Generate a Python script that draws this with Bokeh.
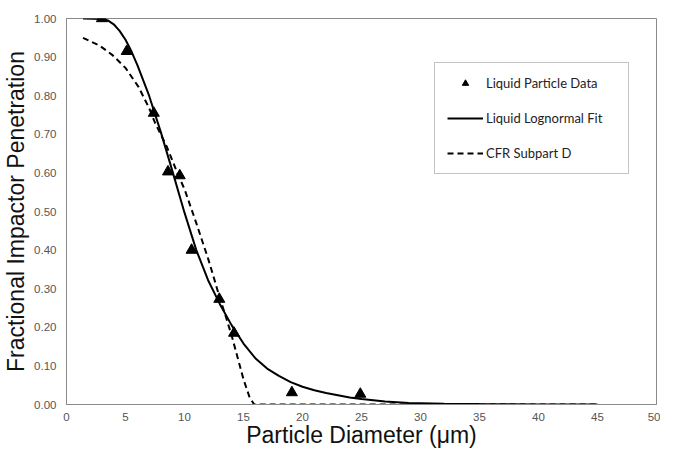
from bokeh.plotting import figure
from bokeh.models import Legend, LegendItem, NumeralTickFormatter, FixedTicker, Range1d
from bokeh.embed import file_html
from bokeh.resources import INLINE

# Measured data points (Liquid Particle Data)
data_x = [3.0, 5.1, 7.4, 8.6, 9.6, 10.6, 12.95, 14.2, 19.1, 24.9]
data_y = [1.00, 0.915, 0.755, 0.603, 0.593, 0.400, 0.273, 0.185, 0.031, 0.027]

# Liquid Lognormal Fit
fit_x = [1.4, 3.0, 3.5, 4.0, 4.5, 5.0, 5.5, 6.0, 7.0, 8.0, 9.0, 10.0, 11.0, 12.0, 13.0,
         14.0, 15.0, 16.0, 17.0, 18.0, 19.0, 20.0, 21.0, 22.0, 23.0, 24.0, 25.0, 27.0,
         29.0, 32.0, 35.0, 40.0, 45.0]
fit_y = [1.000, 0.999, 0.995, 0.985, 0.968, 0.945, 0.915, 0.880, 0.800, 0.705, 0.602,
         0.497, 0.400, 0.322, 0.260, 0.205, 0.158, 0.120, 0.093, 0.074, 0.058, 0.046,
         0.037, 0.030, 0.024, 0.018, 0.014, 0.008, 0.004, 0.002, 0.001, 0.000, 0.000]

# CFR Subpart D
cfr_x = [1.4, 2.8, 3.9, 5.0, 6.1, 7.0, 7.5, 8.5, 9.5, 10.0, 11.0, 12.0, 12.5, 13.0,
         13.5, 14.0, 14.5, 15.0, 15.5, 15.9, 45.0]
cfr_y = [0.950, 0.930, 0.905, 0.872, 0.823, 0.768, 0.730, 0.668, 0.592, 0.558, 0.470,
         0.378, 0.327, 0.275, 0.228, 0.178, 0.122, 0.065, 0.020, 0.000, 0.000]

x_ticks = [0, 5, 10, 15, 20, 25, 30, 35, 40, 45, 50]
y_ticks = [0.0, 0.1, 0.2, 0.3, 0.4, 0.5, 0.6, 0.7, 0.8, 0.9, 1.0]

series_names = ["Liquid Particle Data", "Liquid Lognormal Fit", "CFR Subpart D"]

p = figure(width=660, height=450, output_backend="svg", toolbar_location=None,
           x_range=Range1d(0, 50), y_range=Range1d(0, 1),
           min_border_left=58, min_border_right=4, min_border_top=18, min_border_bottom=30)

p.grid.visible = False
p.outline_line_color = "#8a8a8a"
p.outline_line_width = 1
p.background_fill_color = "white"
p.border_fill_color = "white"

fit_r = p.line(fit_x, fit_y, line_color="black", line_width=2)
cfr_r = p.line(cfr_x, cfr_y, line_color="black", line_width=2, line_dash="6 4")
pts_r = p.scatter(data_x, data_y, marker="triangle", size=11, fill_color="black",
                  line_color="black")

for ax in (p.xaxis[0], p.yaxis[0]):
    ax.axis_line_color = "#8a8a8a"
    ax.major_tick_line_color = None
    ax.minor_tick_line_color = None
    ax.major_tick_out = 0
    ax.major_tick_in = 0
    ax.major_label_text_font = "Liberation Sans"
    ax.major_label_text_font_size = "11.5px"
    ax.major_label_text_color = "#555555"
    ax.axis_label_text_font = "Liberation Sans"
    ax.axis_label_text_font_style = "normal"
    ax.axis_label_text_color = "#111111"

p.xaxis.ticker = FixedTicker(ticks=x_ticks)
p.yaxis.ticker = FixedTicker(ticks=y_ticks)
p.yaxis.formatter = NumeralTickFormatter(format="0.00")
p.xaxis.axis_label = "Particle Diameter (\u03bcm)"
p.yaxis.axis_label = "Fractional Impactor Penetration"
p.xaxis.axis_label_text_font_size = "23px"
p.yaxis.axis_label_text_font_size = "23px"
p.xaxis.major_label_standoff = 8
p.xaxis.axis_label_standoff = -2
p.yaxis.major_label_standoff = 10
p.yaxis.axis_label_standoff = 2

legend = Legend(items=[
    LegendItem(label=series_names[0], renderers=[pts_r]),
    LegendItem(label=series_names[1], renderers=[fit_r]),
    LegendItem(label=series_names[2], renderers=[cfr_r]),
], location=(368, 230))
legend.padding = 12
legend.spacing = 19
legend.glyph_height = 16
legend.label_height = 16
legend.glyph_width = 36
legend.label_standoff = 3
legend.label_width = 130
legend.label_text_font = "Lato"
legend.label_text_font_size = "13px"
legend.label_text_color = "#222222"
legend.border_line_color = "#8a8a8a"
legend.border_line_width = 1
legend.background_fill_color = "white"
legend.background_fill_alpha = 1.0
p.add_layout(legend)

open("out.html", "w").write(file_html(p, INLINE))
